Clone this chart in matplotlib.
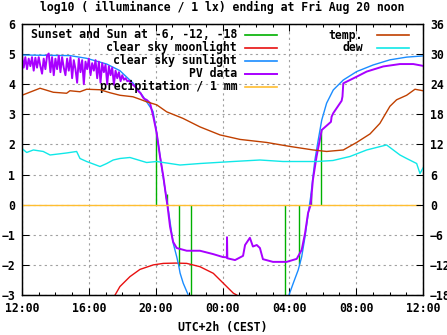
import matplotlib
matplotlib.use("Agg")
import matplotlib.pyplot as plt
from matplotlib.ticker import MultipleLocator, FixedLocator
import numpy as np

# ---------------- data (hours since Thu 12:00 CEST) ----------------
x_tick_labels = ["12:00", "16:00", "20:00", "00:00", "04:00", "08:00", "12:00"]

# sunset / sun at -6, -12, -18 (evening and morning), drawn from 0 to clear-sky level
sun_hours = [8.02, 8.66, 9.38, 10.13, 15.76, 16.60, 17.30, 17.91]
sun_tops = [2.4, 0.35, -2.05, -3.2, -3.2, -1.97, 0.4, 2.5]

# clear sky moonlight
moon_hours = [5.57, 5.86, 6.46, 7.06, 7.86, 8.46, 9.20, 9.86, 10.65, 11.45, 12.05, 12.65, 12.85]
moon_vals = [-3.0, -2.72, -2.39, -2.15, -2.0, -1.95, -1.94, -1.95, -2.06, -2.28, -2.61, -2.94, -3.0]

# clear sky sunlight
sun_curve_hours = [0.0, 2.87, 3.87, 5.07, 5.86, 6.64, 7.24, 7.84, 8.0, 8.2, 8.4, 8.62,
                   8.76, 8.96, 9.05, 9.26, 9.38, 9.46, 9.65, 9.95, 10.3,
                   15.7, 15.98, 16.24, 16.53, 16.74, 16.94, 17.13, 17.28, 17.53, 17.73,
                   17.94, 18.23, 18.63, 19.23, 20.03, 21.02, 22.02, 23.02, 24.0]
sun_curve_vals = [4.97, 4.95, 4.86, 4.67, 4.45, 4.04, 3.6, 3.1, 2.6, 1.85, 1.1, 0.3,
                  -0.18, -0.95, -1.28, -1.73, -2.02, -2.27, -2.61, -3.0, -3.6,
                  -3.6, -3.0, -2.6, -2.17, -1.73, -1.06, -0.29, 0.27, 1.48, 2.15,
                  2.81, 3.37, 3.81, 4.14, 4.42, 4.64, 4.81, 4.9, 4.94]

# PV data
pv_hours = [0.0, 0.1, 0.2, 0.3, 0.4, 0.5, 0.6, 0.7, 0.8, 0.9,
            1.0, 1.1, 1.2, 1.3, 1.4, 1.5, 1.6, 1.7, 1.8, 1.9,
            2.0, 2.1, 2.2, 2.3, 2.4, 2.5, 2.6, 2.7, 2.8, 2.9,
            3.0, 3.1, 3.2, 3.3, 3.4, 3.5, 3.6, 3.7, 3.8, 3.9,
            4.0, 4.1, 4.2, 4.3, 4.4, 4.5, 4.6, 4.7, 4.8, 4.9,
            5.0, 5.1, 5.2, 5.3, 5.4, 5.5, 5.6, 5.7, 5.8, 5.9,
            6.0, 6.1, 6.2, 6.3, 6.4, 6.5, 6.6, 6.7, 6.8, 6.9,
            7.0, 7.1, 7.2, 7.3, 7.46, 7.66, 7.86, 8.06, 8.26, 8.46,
            8.64, 8.7, 8.86, 9.04, 9.26, 9.86, 10.65, 11.43, 12.03, 12.26,
            12.27, 12.29, 12.75, 13.23, 13.35, 13.64, 13.82, 14.05, 14.24, 14.42,
            15.02, 15.84, 16.44, 16.74, 16.94, 17.12, 17.28, 17.41, 17.63, 17.94,
            18.49, 18.53, 18.63, 19.13, 19.18, 19.23, 20.03, 20.63, 21.62, 22.62,
            23.42, 24.0]
pv_vals = [4.95, 4.55, 4.9, 4.5, 4.85, 4.6, 4.9, 4.45, 4.88, 4.55,
           4.9, 4.6, 4.35, 4.85, 4.5, 4.95, 5.02, 4.4, 4.9, 4.3,
           4.85, 4.5, 4.95, 4.4, 4.9, 4.55, 4.3, 4.85, 4.45, 4.9,
           4.2, 4.8, 4.5, 4.05, 4.85, 4.4, 4.8, 4.0, 4.75, 4.5,
           4.85, 4.3, 4.7, 4.45, 4.8, 4.2, 4.75, 4.05, 4.7, 4.4,
           4.65, 4.0, 4.6, 4.3, 4.55, 3.98, 4.45, 4.2, 4.4, 4.1,
           4.3, 4.15, 4.2, 4.1, 4.12, 4.05, 4.0, 3.95, 3.9, 3.82,
           3.75, 3.7, 3.6, 3.52, 3.48, 3.38, 2.92, 2.38, 1.6, 0.93,
           0.2, 0.0, -0.73, -1.23, -1.44, -1.53, -1.53, -1.64, -1.74, -1.75,
           -1.08, -1.78, -1.84, -1.7, -1.34, -1.1, -1.39, -1.34, -1.44, -1.81,
           -1.9, -1.9, -1.8, -1.5, -0.95, -0.28, 0.0, 0.82, 1.6, 2.48,
           2.75, 2.92, 3.04, 3.45, 3.59, 4.03, 4.25, 4.42, 4.59, 4.67,
           4.67, 4.61]

# precipitation / 1 mm (log10 scale)
precip_hours = [0.0, 23.85]
precip_vals = [0.0, 0.0]

# temperature and dew point (deg C, right axis)
temp_hours = [0.0, 1.08, 1.87, 2.67, 2.87, 3.47, 3.87, 4.67, 5.27, 5.86, 6.64, 7.06, 7.46,
              8.06, 8.66, 9.63, 10.65, 11.85, 13.05, 14.64, 16.04, 17.43, 18.23, 19.23,
              20.03, 20.83, 21.42, 22.02, 22.42, 23.02, 23.52, 24.0]
temp_vals = [21.8, 23.2, 22.4, 22.2, 22.7, 22.5, 23.0, 22.9, 22.3, 21.8, 21.5, 21.0, 20.5,
             19.9, 18.5, 17.2, 15.5, 13.9, 13.0, 12.4, 11.6, 10.9, 10.6, 10.9,
             12.4, 14.1, 16.2, 19.6, 20.9, 21.8, 23.0, 22.7]
dew_hours = [0.0, 0.28, 0.68, 1.27, 1.68, 2.67, 3.27, 3.47, 3.87, 4.67, 5.07, 5.46, 5.86,
             6.46, 7.46, 8.06, 9.46, 10.65, 12.63, 14.24, 15.62, 17.64, 18.61, 19.63,
             20.63, 21.82, 22.62, 23.02, 23.62, 23.82, 24.0]
dew_vals = [11.2, 10.4, 10.9, 10.6, 9.9, 10.3, 10.6, 9.2, 8.6, 7.6, 8.2, 8.9, 9.2,
            9.4, 8.4, 8.6, 7.9, 8.2, 8.6, 8.9, 8.6, 8.6, 8.8, 9.6,
            10.9, 11.9, 9.9, 9.2, 8.2, 6.2, 7.3]

# ---------------- styling ----------------
W, H = 447, 335
FONT = dict(family="DejaVu Sans Mono", weight="bold", size=8.3)
c_green = "#00b000"
c_moon = "#e81010"
c_sun = "#1a8cff"
c_pv = "#a800ff"
c_precip = "#ffbe30"
c_temp = "#c04000"
c_dew = "#10e8e8"

fig = plt.figure(figsize=(W / 100, H / 100), dpi=100)
L, R, T, B = 22, 423, 24, 295
ax = fig.add_axes([L / W, 1 - B / H, (R - L) / W, (B - T) / H])
ax.set_xlim(0, 24)
ax.set_ylim(-3, 6)

ax.grid(True, which="major", color="#a0a0a0", linestyle=(0, (2, 3)), linewidth=0.8, zorder=0)
ax.set_axisbelow(True)

def fx(px):
    return (px - L) / (R - L)

def fy(py):
    return (B - py) / (B - T)

# legend background box hiding the grid
ax.add_patch(plt.Rectangle((0, fy(92)), fx(288), 1 - fy(92), transform=ax.transAxes,
                           facecolor="white", edgecolor="none", zorder=0.5))

lw = 1.0
ax.vlines(sun_hours, 0, sun_tops, colors=c_green, linewidth=lw, zorder=2)
ax.plot(moon_hours, moon_vals, color=c_moon, linewidth=lw, zorder=2)
ax.plot(sun_curve_hours, sun_curve_vals, color=c_sun, linewidth=lw, zorder=3)
ax.plot(pv_hours, pv_vals, color=c_pv, linewidth=1.4, zorder=4)
ax.plot(precip_hours, precip_vals, color=c_precip, linewidth=lw, zorder=5)

ax2 = ax.twinx()
ax2.set_ylim(-18, 36)
ax2.plot(temp_hours, temp_vals, color=c_temp, linewidth=lw)
ax2.plot(dew_hours, dew_vals, color=c_dew, linewidth=lw)

# ticks
ax.xaxis.set_major_locator(FixedLocator([0, 4, 8, 12, 16, 20, 24]))
ax.xaxis.set_minor_locator(MultipleLocator(1))
ax.set_xticklabels(x_tick_labels)
ax.yaxis.set_major_locator(MultipleLocator(1))
ax2.yaxis.set_major_locator(MultipleLocator(6))
for a in (ax, ax2):
    a.tick_params(which="major", direction="in", length=5, width=0.75, top=True, color="black")
    a.tick_params(which="minor", direction="in", length=2.5, width=0.75, top=True)
    for s in a.spines.values():
        s.set_linewidth(0.9)
ax.tick_params(axis="y", right=False, pad=5)
ax.tick_params(axis="x", pad=5)
ax2.tick_params(axis="y", pad=5)
for lab in ax.get_xticklabels() + ax.get_yticklabels() + ax2.get_yticklabels():
    lab.set_fontfamily(FONT["family"])
    lab.set_fontweight("bold")
    lab.set_fontsize(FONT["size"])

ax.set_xlabel("UTC+2h (CEST)", labelpad=4, **FONT)
fig.text(222.5 / W, 1 - 7 / H, "log10 ( illuminance / 1 lx) ending at Fri Aug 20 noon",
         ha="center", va="center", **FONT)

# legends (gnuplot style: right-aligned text, sample to the right)
left_labels = ["Sunset and Sun at -6, -12, -18", "clear sky moonlight", "clear sky sunlight",
               "PV data", "precipitation / 1 mm"]
left_colors = [c_green, c_moon, c_sun, c_pv, c_precip]
for i, (lab, col) in enumerate(zip(left_labels, left_colors)):
    yy = fy(35 + 12.9 * i)
    ax.text(fx(237), yy, lab, transform=ax.transAxes, ha="right", va="center", zorder=10, **FONT)
    ax.plot([fx(245), fx(277)], [yy, yy], transform=ax.transAxes, color=col,
            linewidth=1.4 if col == c_pv else 1.2, zorder=10)
right_labels = ["temp.", "dew"]
right_colors = [c_temp, c_dew]
for i, (lab, col) in enumerate(zip(right_labels, right_colors)):
    yy = fy(35 + 12.9 * i)
    ax2.text(fx(363), yy, lab, transform=ax.transAxes, ha="right", va="center", zorder=10, **FONT)
    ax2.plot([fx(377), fx(409)], [yy, yy], transform=ax.transAxes, color=col,
             linewidth=1.2, zorder=10)

fig.savefig("out.png", dpi=100)
